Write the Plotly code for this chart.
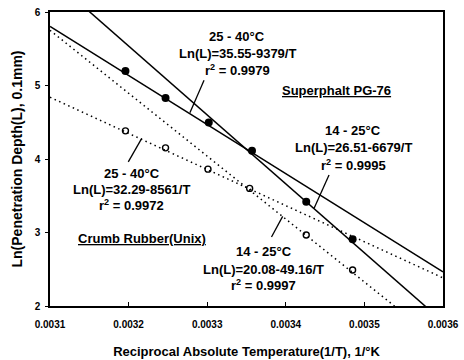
import numpy as np
import plotly.graph_objects as go

# ---- data ----
superphalt_x = [0.003196, 0.003247, 0.003302, 0.003357, 0.003426, 0.003485]
superphalt_y = [5.198, 4.831, 4.497, 4.111, 3.418, 2.907]

crumb_x = [0.003196, 0.003247, 0.003301, 0.003354, 0.003426, 0.003485]
crumb_y = [4.383, 4.152, 3.862, 3.600, 2.965, 2.490]

# fit lines Ln(L) = a - b * (1/T)
superphalt_fit_a = [26.51, 35.55]
superphalt_fit_b = [6679, 9379]
crumb_fit_a = [20.08, 32.29]
crumb_fit_b = [4916, 8561]

x_range = [0.0031, 0.0036]
y_range = [2, 6]
x_ticks = [0.0031, 0.0032, 0.0033, 0.0034, 0.0035, 0.0036]
y_ticks = [2, 3, 4, 5, 6]

FONT = "Liberation Sans, Arial, sans-serif"
fig = go.Figure()

xs = np.linspace(x_range[0], x_range[1], 200)
for a, b in zip(superphalt_fit_a, superphalt_fit_b):
    fig.add_trace(go.Scatter(x=xs, y=a - b * xs, mode="lines",
                             line=dict(color="black", width=1.5),
                             hoverinfo="skip", showlegend=False))
for a, b in zip(crumb_fit_a, crumb_fit_b):
    fig.add_trace(go.Scatter(x=xs, y=a - b * xs, mode="lines",
                             line=dict(color="black", width=1.5, dash="1.5px,3.5px"),
                             hoverinfo="skip", showlegend=False))

fig.add_trace(go.Scatter(x=superphalt_x, y=superphalt_y, mode="markers",
                         marker=dict(symbol="circle", size=8, color="black"),
                         showlegend=False))
fig.add_trace(go.Scatter(x=crumb_x, y=crumb_y, mode="markers",
                         marker=dict(symbol="circle-open", size=6, color="black",
                                     line=dict(width=1.4, color="black")),
                         showlegend=False))

def label(x, y, text, size=13):
    fig.add_annotation(x=x, y=y, xref="x", yref="y", text="<b>" + text + "</b>",
                       showarrow=False, xanchor="center", yanchor="middle",
                       font=dict(family=FONT, size=size, color="black"))

# Superphalt upper label
label(0.003338, 5.660, "25 - 40°C")
label(0.003338, 5.435, "Ln(L)=35.55-9379/T")
label(0.003338, 5.217, "r<sup>2</sup> = 0.9979")
label(0.0034645, 4.929, "<u>Superphalt PG-76</u>")
# Superphalt right label
label(0.003486, 4.392, "14 - 25°C")
label(0.003486, 4.157, "Ln(L)=26.51-6679/T")
label(0.003486, 3.917, "r<sup>2</sup> = 0.9995")
# Crumb rubber left label
label(0.003204, 3.804, "25 - 40°C")
label(0.003204, 3.590, "Ln(L)=32.29-8561/T")
label(0.003204, 3.373, "r<sup>2</sup> = 0.9972")
label(0.0032167, 2.920, "<u>Crumb Rubber(Unix)</u>")
# Crumb rubber bottom label
label(0.003372, 2.738, "14 - 25°C")
label(0.003372, 2.499, "Ln(L)=20.08-49.16/T")
label(0.003372, 2.286, "r<sup>2</sup> = 0.9997")

# pointer lines
pointers = [
    (0.003296, 5.072, 0.003278, 4.63),
    (0.003455, 3.781, 0.003436, 3.33),
    (0.0031996, 3.961, 0.0032167, 4.28),
    (0.0033818, 2.938, 0.003396, 3.22),
]
for x0, y0, x1, y1 in pointers:
    fig.add_shape(type="line", x0=x0, y0=y0, x1=x1, y1=y1, xref="x", yref="y",
                  line=dict(color="black", width=1.3))

fig.update_layout(
    width=464, height=360,
    margin=dict(l=50, r=21, t=12, b=54),
    paper_bgcolor="white", plot_bgcolor="white",
    font=dict(family=FONT, color="black"),
)
fig.update_xaxes(
    range=x_range, tickvals=x_ticks, ticktext=[f"<b>{v:.4f}</b>" for v in x_ticks],
    showgrid=False, zeroline=False, showline=True, linecolor="black", linewidth=1.5,
    mirror=True, ticks="inside", ticklen=4, tickcolor="black", automargin=False,
    tickfont=dict(family=FONT, size=10, color="black"), ticklabelstandoff=8,
    title=dict(text="<b>Reciprocal Absolute Temperature(1/T), 1/°K</b>",
               font=dict(family=FONT, size=13, color="black"), standoff=18),
)
fig.update_yaxes(
    range=y_range, tickvals=y_ticks, ticktext=[f"<b>{v}</b>" for v in y_ticks],
    showgrid=False, zeroline=False, showline=True, linecolor="black", linewidth=1.5,
    mirror=True, ticks="outside", ticklen=3, tickcolor="black", automargin=False,
    tickfont=dict(family=FONT, size=10, color="black"), ticklabelstandoff=3,
    title=dict(text="<b>Ln(Penetration Depth(L), 0.1mm)</b>",
               font=dict(family=FONT, size=14, color="black"), standoff=9),
)

fig.write_html("out.html")
